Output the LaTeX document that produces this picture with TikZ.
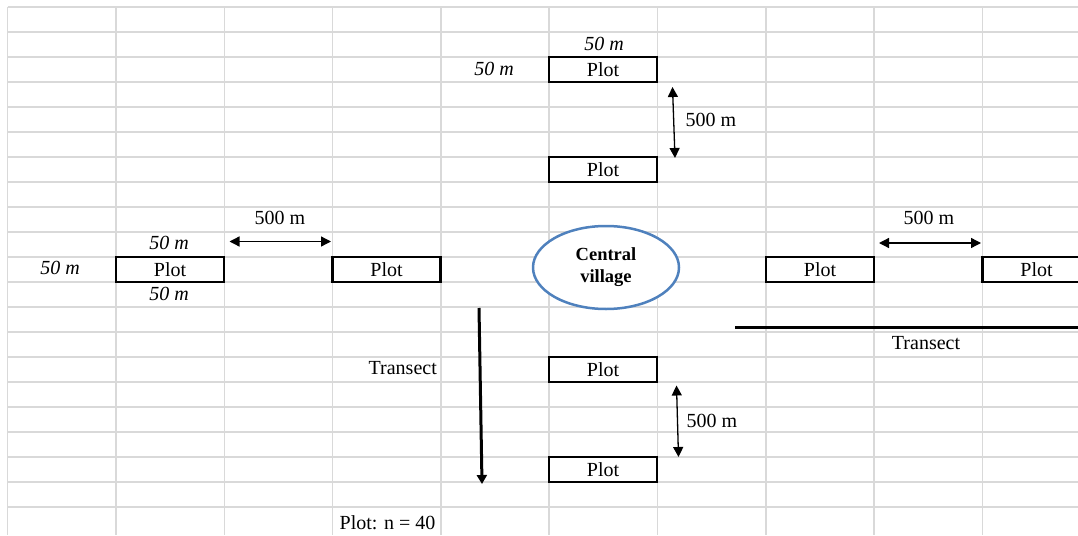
\documentclass[tikz,border=0pt]{standalone}
\usepackage{fontspec}
\setmainfont{Liberation Serif}
\usetikzlibrary{arrows.meta,shapes.geometric}
\definecolor{gridgray}{RGB}{217,217,217}
\definecolor{villageblue}{RGB}{79,129,189}
\begin{document}
\begin{tikzpicture}[x=1pt,y=-1pt,
  plotbox/.style={draw=black,line width=2.5pt,minimum width=108pt,minimum height=25pt,inner sep=0pt,fill=white,font=\fontsize{20}{22}\selectfont},
  lbl/.style={inner sep=0pt,font=\fontsize{20}{22}\selectfont},
  ilbl/.style={inner sep=0pt,font=\fontsize{20}{22}\selectfont\itshape},
  dimarrow/.style={{Triangle[length=10pt,width=10pt]}-{Triangle[length=10pt,width=10pt]},line width=1.3pt},
  transect/.style={line width=3pt},
  gridline/.style={gridgray,line width=1.2pt}
]
\useasboundingbox (0,0) rectangle (1078,535);
\begin{scope}
\clip (0,0) rectangle (1078,535);
\foreach \y in {7,32,...,507} \draw[gridline] (7.5,\y) -- (1078,\y);
\foreach \x in {7.5,116,224.5,332.5,441,549,657.5,766,874,982.5} \draw[gridline] (\x,7) -- (\x,535);
\node[plotbox] (pR2) at (1036.5,269.5) {Plot};
\end{scope}

% plots
\node[plotbox] (pT1) at (603,69.5) {Plot};
\node[plotbox] (pT2) at (603,169.5) {Plot};
\node[plotbox] (pB1) at (603,369.5) {Plot};
\node[plotbox] (pB2) at (603,469.5) {Plot};
\node[plotbox] (pL1) at (170,269.5) {Plot};
\node[plotbox] (pL2) at (386.5,269.5) {Plot};
\node[plotbox] (pR1) at (820,269.5) {Plot};

% central village
\node[ellipse,draw=villageblue,line width=2.5pt,fill=white,minimum width=146pt,minimum height=83pt,inner sep=0pt,align=center,font=\fontsize{18.5}{22}\selectfont\bfseries] (cv) at (606,267.5) {Central\\village};

% size labels
\node[ilbl] (sT1) at (604,44) {50 m};
\node[ilbl] (sT2) at (494,69) {50 m};
\node[ilbl] (sL1) at (169,243) {50 m};
\node[ilbl] (sL2) at (60,268) {50 m};
\node[ilbl] (sL3) at (169,294) {50 m};

% distance labels
\node[lbl] (dT) at (711,120) {500 m};
\node[lbl] (dL) at (280,218) {500 m};
\node[lbl] (dR) at (929,218) {500 m};
\node[lbl] (dB) at (712,421) {500 m};

% distance arrows
\coordinate (aT1) at (672.5,87);
\coordinate (aT2) at (675,158);
\coordinate (aB1) at (676.5,385.5);
\coordinate (aB2) at (678.5,457);
\coordinate (aL1) at (229.5,241.5);
\coordinate (aL2) at (331,241.5);
\coordinate (aR1) at (879,243);
\coordinate (aR2) at (981,243);
\draw[dimarrow] (aT1) -- (aT2);
\draw[dimarrow] (aB1) -- (aB2);
\draw[dimarrow] (aL1) -- (aL2);
\draw[dimarrow] (aR1) -- (aR2);

% transects
\coordinate (tV1) at (479,308);
\coordinate (tV2) at (482,484);
\draw[transect,-{Triangle[length=9pt,width=10pt]}] (tV1) -- (tV2);
\coordinate (tH1) at (735,327.5);
\coordinate (tH2) at (1078,327.5);
\draw[transect] (tH1) -- (tH2);
\node[lbl] (tlH) at (926,343) {Transect};
\node[lbl,anchor=east] (tlV) at (437,368) {Transect};

\node[lbl] (n40) at (387.5,523) {Plot: n = 40};
\end{tikzpicture}
\end{document}
